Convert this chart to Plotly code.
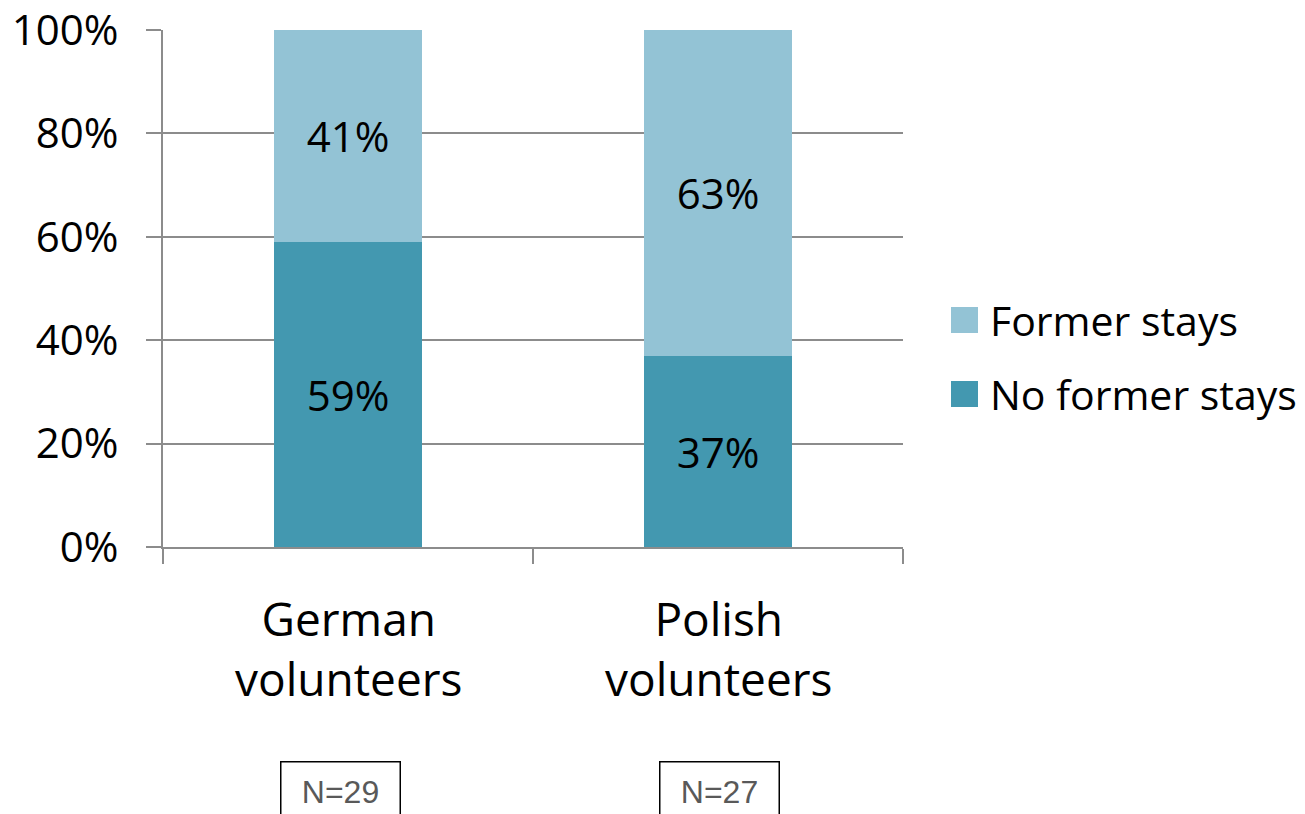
import plotly.graph_objects as go

# ---- data ----
categories = ["German<br>volunteers", "Polish<br>volunteers"]
series_names = ["No former stays", "Former stays"]
no_former = [59, 37]
former = [41, 63]
sample_sizes = ["N=29", "N=27"]
y_ticks = [0, 20, 40, 60, 80, 100]

colors = {"No former stays": "#4398B0", "Former stays": "#93C3D5"}
FONT = "Open Sans, Lato, DejaVu Sans, sans-serif"
GRID = "#8C8C8C"

W, H = 1305, 814
# plot area in page pixels
L, R, T, B = 163, 903, 30, 547


def px_x(px):
    return (px - L) / (R - L)


def px_y(py):
    return (B - py) / (B - T)


xs = list(range(len(categories)))

fig = go.Figure()
for name, vals in zip(series_names, [no_former, former]):
    fig.add_trace(go.Bar(
        x=xs, y=vals, name=name, width=0.4,
        marker=dict(color=colors[name], line=dict(width=0)),
        text=[f"{v}%" for v in vals],
        textposition="inside", insidetextanchor="middle",
        textfont=dict(family=FONT, size=42, color="black"),
        showlegend=False, hoverinfo="skip",
    ))

fig.update_layout(
    barmode="stack",
    width=W, height=H,
    margin=dict(l=L, r=W - R, t=T, b=H - B, pad=0, autoexpand=False),
    plot_bgcolor="white", paper_bgcolor="white",
    font=dict(family=FONT, color="black"),
    uniformtext=dict(mode=False),
)
fig.update_yaxes(
    range=[0, 100], tickvals=y_ticks, ticktext=[f"{v}%" for v in y_ticks],
    tickfont=dict(family=FONT, size=42, color="black"),
    showgrid=True, gridcolor=GRID, gridwidth=2,
    ticks="outside", ticklen=15, tickwidth=2, tickcolor=GRID,
    showline=True, linecolor=GRID, linewidth=2,
    zeroline=False, ticklabelstandoff=19, automargin=False,
    ticklabeloverflow="allow",
)
fig.update_xaxes(
    range=[-0.5, len(categories) - 0.5],
    tickvals=[i - 0.5 for i in range(len(categories) + 1)],
    ticktext=["" for _ in range(len(categories) + 1)],
    ticks="outside", ticklen=15, tickwidth=2, tickcolor=GRID,
    showline=True, linecolor=GRID, linewidth=2,
    showgrid=False, zeroline=False, automargin=False,
)

annotations = []
# category labels
for i, cat in enumerate(categories):
    annotations.append(dict(
        x=i, y=px_y(648), xref="x", yref="paper",
        text=cat, showarrow=False, xanchor="center", yanchor="middle",
        font=dict(family=FONT, size=46, color="black"),
    ))
# sample size boxes
shifts = [-8, 1]
for i, n in enumerate(sample_sizes):
    annotations.append(dict(
        x=i, y=px_y(761), xref="x", yref="paper", xshift=shifts[i],
        text=n, showarrow=False, xanchor="center", yanchor="top",
        width=118, height=58, borderpad=0, borderwidth=1.5, bordercolor="black",
        valign="middle",
        font=dict(family="Liberation Sans, Arial, sans-serif", size=32, color="#595959"),
    ))

# legend (manual, for large swatches)
legend_items = [("Former stays", 320), ("No former stays", 394)]
shapes = []
for name, cy in legend_items:
    shapes.append(dict(
        type="rect", xref="paper", yref="paper",
        x0=px_x(951), x1=px_x(978), y0=px_y(cy + 13), y1=px_y(cy - 13),
        fillcolor=colors[name], line=dict(width=0),
    ))
    annotations.append(dict(
        x=px_x(988), y=px_y(cy), xref="paper", yref="paper",
        text=name, showarrow=False, xanchor="left", yanchor="middle",
        font=dict(family=FONT, size=41, color="black"),
    ))

fig.update_layout(annotations=annotations, shapes=shapes)
fig.write_html(
    "out.html",
    config={"displayModeBar": False, "staticPlot": True},
    post_script="document.body.style.margin='0px'; document.body.style.overflow='hidden';",
)
